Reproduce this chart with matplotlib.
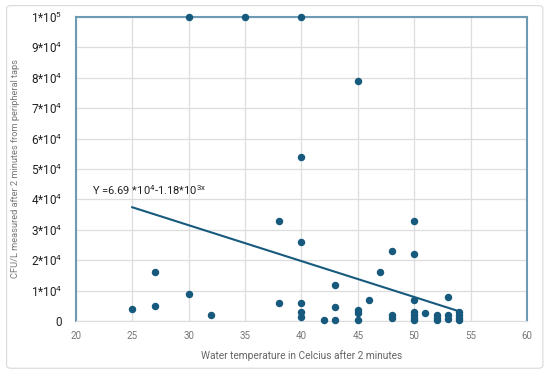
import numpy as np
import matplotlib.pyplot as plt
from matplotlib.patches import FancyBboxPatch

plt.rcParams['font.family'] = ['Roboto', 'DejaVu Sans']
plt.rcParams['mathtext.fontset'] = 'custom'
plt.rcParams['mathtext.rm'] = 'Roboto'
plt.rcParams['mathtext.it'] = 'Roboto'

# Water temperature (C) and CFU/L
temp = [25, 27, 27, 30, 30, 32, 35, 38, 38,
        40, 40, 40, 40, 40, 40, 42,
        43, 43, 43, 45, 45, 45, 45, 46, 47,
        48, 48, 48, 50, 50, 50, 50, 50, 50, 50,
        51, 52, 52, 52, 53, 53, 53, 54, 54, 54, 54]
cfu = [4000, 16000, 5000, 9000, 100000, 2000, 100000, 33000, 6000,
       100000, 54000, 26000, 6000, 2800, 1200, 300,
       12000, 4500, 300, 79000, 3500, 2500, 300, 7000, 16000,
       23000, 2000, 1000, 33000, 22000, 7000, 3000, 2000, 1000, 200,
       2500, 2000, 1000, 300, 8000, 2000, 500, 3000, 2000, 1000, 200]

# trendline coefficients as given in the chart
a, b = 66900, -1180
fit_x = np.array([25, 54])

xticks = [20, 25, 30, 35, 40, 45, 50, 55, 60]
yticks = np.arange(0, 100001, 10000)
ylabels = ['0'] + [f'{i}*10$^4$' for i in range(1, 10)] + ['1*10$^5$']

blue = '#175a7e'
frame = '#6f9ab3'

fig = plt.figure(figsize=(5.5, 3.75), dpi=100)
fig.patches.append(FancyBboxPatch((0.012, 0.018), 0.975, 0.967, boxstyle='round,pad=0,rounding_size=0.008',
                                  transform=fig.transFigure, fc='white', ec='#d9d9d9', lw=0.8, zorder=-1))
ax = fig.add_axes([0.138, 0.144, 0.82, 0.811])

ax.scatter(temp, cfu, s=19, color=blue, zorder=3, clip_on=False)
ax.plot(fit_x, a + b * fit_x, color=blue, lw=1.5, zorder=2)
ax.text(21.4, 41500, 'Y =6.69 *10$^4$-1.18*10$^{3x}$', fontsize=8, color='#222222')

ax.set_xlim(20, 60)
ax.set_ylim(0, 100000)
ax.set_xticks(xticks)
ax.set_yticks(yticks)
ax.set_yticklabels(ylabels)
ax.tick_params(axis='x', length=0, labelsize=7, labelcolor='#777777', pad=7)
ax.tick_params(axis='y', length=0, labelsize=8.5, labelcolor='#222222', pad=10)
ax.grid(color='#dddddd', lw=0.9)
ax.set_axisbelow(True)

for s in ['left', 'top', 'right']:
    ax.spines[s].set_color(frame)
    ax.spines[s].set_linewidth(1.5)
ax.spines['bottom'].set_color('#dddddd')

ax.set_xlabel('Water temperature in Celcius after 2 minutes', fontsize=7.3, color='#666666')
ax.set_ylabel('CFU/L measured after 2 minutes from peripheral taps', fontsize=6.7, color='#777777')
ax.xaxis.set_label_coords(0.5, -0.095)
ax.yaxis.set_label_coords(-0.124, 0.5)

fig.savefig('out.png', dpi=100)
